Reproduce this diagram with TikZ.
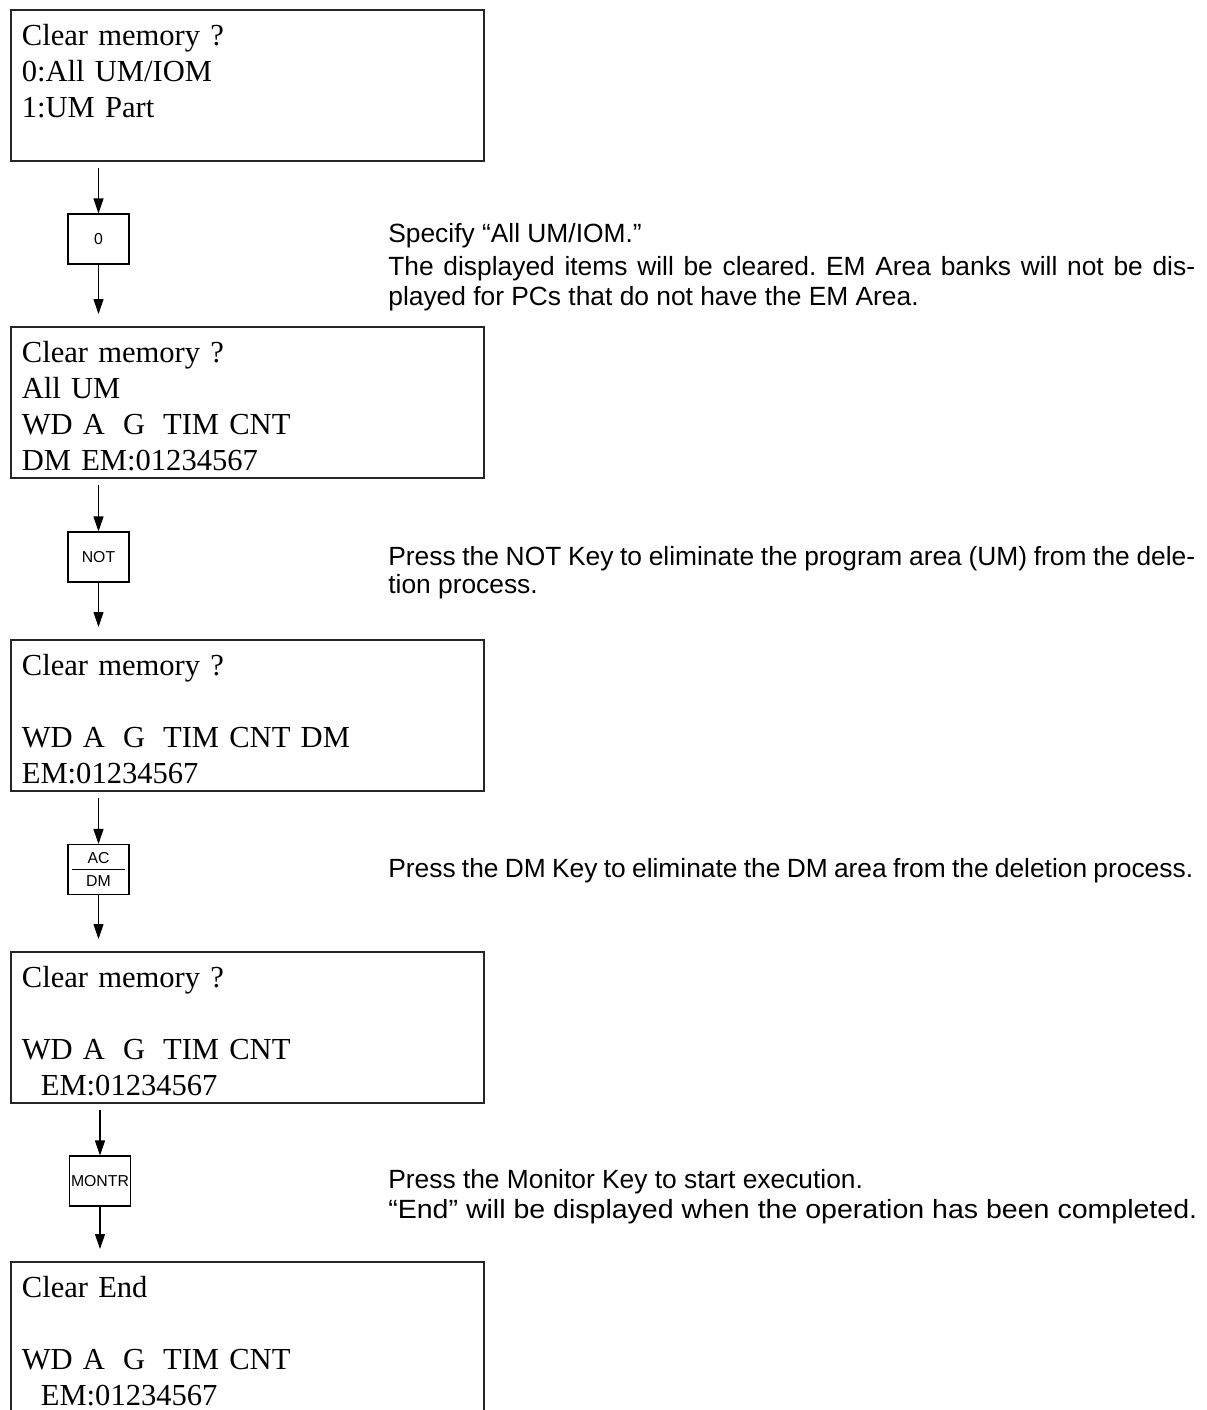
\documentclass[tikz,border=0pt]{standalone}
\usepackage{fontspec}
\usepackage{graphicx}
\setmainfont{Liberation Serif}
\setsansfont{Liberation Sans}
\usetikzlibrary{arrows.meta,positioning,calc}
\newcommand{\wsp}{\hspace{0.36cm}}
\frenchspacing

\begin{document}
\begin{tikzpicture}[x=0.02cm, y=-0.02cm,
  screen/.style={draw=black!85, line width=1pt, anchor=north west,
    inner xsep=0.22cm, inner ysep=0pt, text width=9.02cm, align=left,
    text height=0.72cm, text depth=2.30cm,
    font=\fontsize{17.4}{20.4}\selectfont},
  key/.style={draw, line width=0.6pt, minimum width=1.22cm, minimum height=1cm,
    inner sep=0pt, align=center, font=\sffamily\fontsize{9}{13}\selectfont},
  flow/.style={line width=0.6pt, -{Triangle[length=0.3cm,width=0.2cm]}},
  note/.style={anchor=base west, inner sep=0pt, font=\sffamily\fontsize{15}{18}\selectfont}]
  \clip (0,0) rectangle (1207,1410);
  % display screens
  \node[screen] (scr1) at (10,9) {Clear memory ?\\0:All UM/IOM\\1:UM Part};
  \node[screen] (scr2) at (10,326) {Clear memory ?\\All UM\\WD A\wsp G\wsp TIM CNT\\DM EM:01234567};
  \node[screen] (scr3) at (10,639) {Clear memory ?\\\mbox{}\\WD A\wsp G\wsp TIM CNT DM\\EM:01234567};
  \node[screen] (scr4) at (10,951) {Clear memory ?\\\mbox{}\\WD A\wsp G\wsp TIM CNT\\\hspace*{0.38cm}EM:01234567};
  \node[screen] (scr5) at (10,1261) {Clear End\\\mbox{}\\WD A\wsp G\wsp TIM CNT\\\hspace*{0.38cm}EM:01234567};
  % keys
  \node[key] (k0) at (98.5,239) {0};
  \node[key] (knot) at (98.5,557) {NOT};
  \node[key] (kdm) at (98.5,869.5) {AC\\DM};
  \draw[line width=0.5pt] ([xshift=0.1cm]kdm.west) -- ([xshift=-0.1cm]kdm.east);
  \node[key] (kmon) at (100,1181) {MONTR};
  % arrows
  \draw[flow, shorten <=0.12cm] (scr1.south -| k0) -- (k0.north);
  \draw[flow, shorten >=0.24cm] (k0.south) -- (k0.south |- scr2.north);
  \draw[flow, shorten <=0.12cm] (scr2.south -| knot) -- (knot.north);
  \draw[flow, shorten >=0.24cm] (knot.south) -- (knot.south |- scr3.north);
  \draw[flow, shorten <=0.12cm] (scr3.south -| kdm) -- (kdm.north);
  \draw[flow, shorten >=0.24cm] (kdm.south) -- (kdm.south |- scr4.north);
  \draw[flow, shorten <=0.12cm] (scr4.south -| kmon) -- (kmon.north);
  \draw[flow, shorten >=0.24cm] (kmon.south) -- (kmon.south |- scr5.north);
  % explanations
  \node[note] (n1) at (388,242) {Specify “All UM/IOM.”};
  \node[note] (n2) at (388,275) {\makebox[16.14cm][s]{The displayed items will be cleared. EM Area banks will not be dis-}};
  \node[note] (n3) at (388,305) {played for PCs that do not have the EM Area.};
  \node[note] (n4) at (388,565) {\makebox[16.14cm][s]{Press the NOT Key to eliminate the program area (UM) from the dele-}};
  \node[note] (n5) at (388,593) {tion process.};
  \node[note] (n6) at (388,877) {\makebox[16.1cm][s]{Press the DM Key to eliminate the DM area from the deletion process.}};
  \node[note] (n7) at (388,1188) {Press the Monitor Key to start execution.};
  \node[note] (n8) at (388,1218) {\resizebox{16.18cm}{\height}{“End” will be displayed when the operation has been completed.}};
\end{tikzpicture}
\end{document}
